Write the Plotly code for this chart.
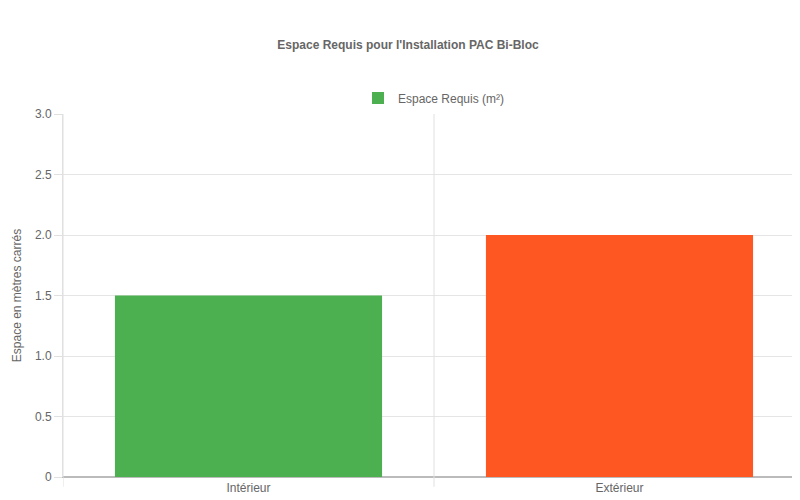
import plotly.graph_objects as go

categories = ["Intérieur", "Extérieur"]
values = [1.5, 2.0]
colors = ["#4CAF50", "#FF5722"]
series_name = "Espace Requis (m²)"
title = "Espace Requis pour l'Installation PAC Bi-Bloc"
y_title = "Espace en mètres carrés"
y_ticks = [0, 0.5, 1.0, 1.5, 2.0, 2.5, 3.0]
y_ticklabels = ["0", "0.5", "1.0", "1.5", "2.0", "2.5", "3.0"]

fig = go.Figure(go.Bar(x=categories, y=values, name=series_name,
                       marker=dict(color=colors, line=dict(width=0)),
                       width=0.72, showlegend=True))

shapes = [dict(type="line", xref="x", yref="paper", x0=b, x1=b, y0=-0.027, y1=1,
               line=dict(color="#e0e0e0", width=1)) for b in (-0.5, 0.5, 1.5)]

fig.update_layout(
    width=800, height=500,
    margin=dict(l=55, r=3, t=106, b=31, autoexpand=False),
    paper_bgcolor="white", plot_bgcolor="white",
    font=dict(family="Liberation Sans, Arial, sans-serif", size=12, color="#666"),
    title=dict(text="<b>" + title + "</b>", x=0.5, xanchor="center",
               y=1 - 37/500, yanchor="middle", yref="container",
               font=dict(size=12, color="#666"), automargin=False),
    legend=dict(orientation="h", x=0.5, xanchor="center", y=(469-90)/363,
                yref="paper", yanchor="middle", font=dict(size=12, color="#666")),
    xaxis=dict(showgrid=False, showline=True, linecolor="#bbb", ticks="",
               range=[-0.5, 1.5], tickfont=dict(size=12, color="#666"), automargin=False),
    yaxis=dict(range=[0, 3], tickvals=y_ticks, ticktext=y_ticklabels, gridcolor="#e5e5e5",
               showline=True, linecolor="#e0e0e0", zeroline=True, zerolinecolor="#bbb",
               ticks="outside", ticklen=8, tickcolor="#e0e0e0", automargin=False,
               title=dict(text=y_title, font=dict(size=12, color="#666"), standoff=10),
               tickfont=dict(size=12, color="#666")),
    shapes=shapes,
)
fig.write_html("out.html")
